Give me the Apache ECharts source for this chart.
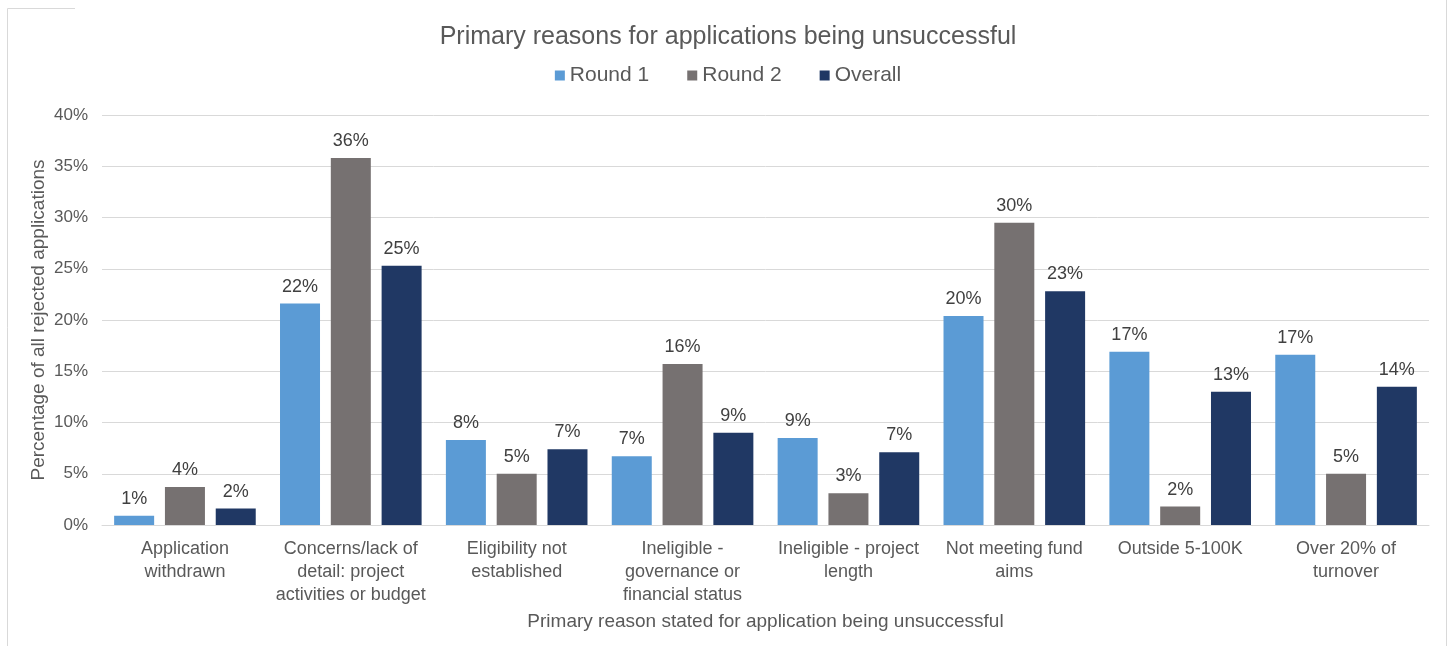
<!DOCTYPE html>
<html>
<head>
<meta charset="utf-8">
<script src="https://cdn.jsdelivr.net/npm/echarts@6/dist/echarts.min.js"></script>
<style>
html,body{margin:0;padding:0;background:#fff;}
#main{width:1456px;height:646px;}
</style>
</head>
<body>
<div id="main"></div>
<script>
const categories = [
  'Application\nwithdrawn',
  'Concerns/lack of\ndetail: project\nactivities or budget',
  'Eligibility not\nestablished',
  'Ineligible -\ngovernance or\nfinancial status',
  'Ineligible - project\nlength',
  'Not meeting fund\naims',
  'Outside 5-100K',
  'Over 20% of\nturnover'
];
const round1 = [0.9, 21.6, 8.3, 6.7, 8.5, 20.4, 16.9, 16.6];
const round2 = [3.7, 35.8, 5.0, 15.7, 3.1, 29.5, 1.8, 5.0];
const overall = [1.6, 25.3, 7.4, 9.0, 7.1, 22.8, 13.0, 13.5];
const yTicks = [0, 5, 10, 15, 20, 25, 30, 35, 40];

const FONT = 'Arial, "Liberation Sans", sans-serif';
const TXT = '#595959';
const chart = echarts.init(document.getElementById('main'));

function bar(name, data, color) {
  return {
    name: name, type: 'bar', data: data,
    barWidth: 40, barGap: '27%',
    itemStyle: { color: color },
    label: {
      show: true, position: 'top', distance: 8,
      color: '#404040', fontSize: 18, fontFamily: FONT,
      formatter: p => Math.round(p.value) + '%'
    }
  };
}

chart.setOption({
  animation: false,
  title: {
    text: 'Primary reasons for applications being unsuccessful',
    left: 'center', top: 20,
    textStyle: { color: TXT, fontSize: 25, fontWeight: 'normal', fontFamily: FONT }
  },
  legend: {
    top: 60, left: 'center',
    itemWidth: 10, itemHeight: 10, itemGap: 38,
    icon: 'rect',
    textStyle: { color: TXT, fontSize: 21, fontFamily: FONT }
  },
  grid: { left: 102, right: 27, top: 115, bottom: 121 },
  xAxis: {
    type: 'category', data: categories,
    axisLine: { lineStyle: { color: '#d9d9d9' } },
    axisTick: { show: false },
    axisLabel: { color: TXT, fontSize: 18, fontFamily: FONT, lineHeight: 23, margin: 13, interval: 0 },
    name: 'Primary reason stated for application being unsuccessful',
    nameLocation: 'middle', nameGap: 86,
    nameTextStyle: { color: TXT, fontSize: 19, fontFamily: FONT }
  },
  yAxis: {
    type: 'value', min: yTicks[0], max: yTicks[yTicks.length - 1], interval: 5,
    axisLabel: { formatter: '{value}%', color: TXT, fontSize: 17, fontFamily: FONT, margin: 14 },
    splitLine: { lineStyle: { color: '#d9d9d9' } },
    axisLine: { show: false }, axisTick: { show: false },
    name: 'Percentage of all rejected applications',
    nameLocation: 'middle', nameGap: 54, nameMoveOverlap: false,
    nameTextStyle: { color: TXT, fontSize: 19, fontFamily: FONT }
  },
  graphic: [
    { type: 'line', shape: { x1: 7.5, y1: 8.5, x2: 7.5, y2: 646 }, style: { stroke: '#d9d9d9', lineWidth: 1 } },
    { type: 'line', shape: { x1: 7.5, y1: 8.5, x2: 75, y2: 8.5 }, style: { stroke: '#d9d9d9', lineWidth: 1 } },
    { type: 'line', shape: { x1: 1446.5, y1: 0, x2: 1446.5, y2: 646 }, style: { stroke: '#d9d9d9', lineWidth: 1 } }
  ],
  series: [
    bar('Round 1', round1, '#5B9BD5'),
    bar('Round 2', round2, '#767171'),
    bar('Overall', overall, '#203864')
  ]
});
</script>
</body>
</html>
